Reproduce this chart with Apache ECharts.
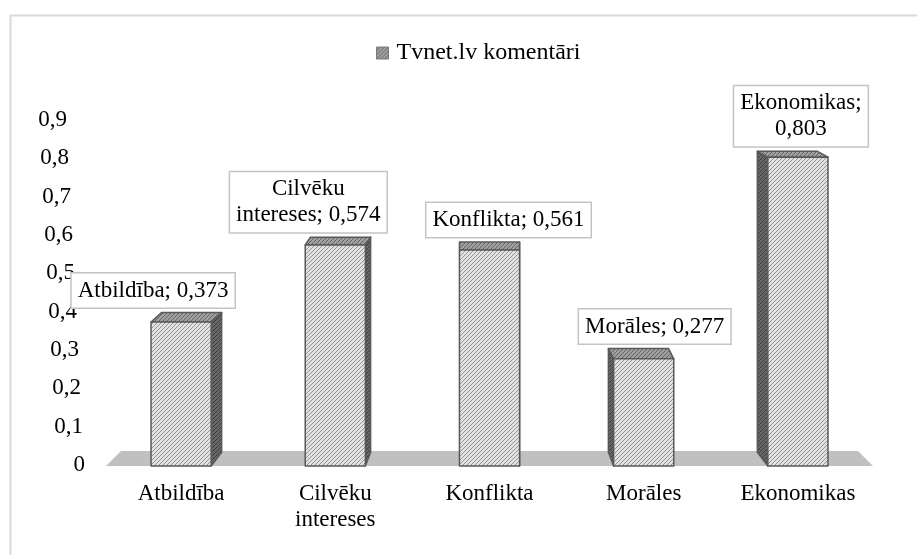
<!DOCTYPE html>
<html>
<head>
<meta charset="utf-8">
<script src="https://cdn.jsdelivr.net/npm/echarts@6/dist/echarts.min.js"></script>
<style>
  html, body { margin: 0; padding: 0; background: #fff; }
  #chart { width: 917px; height: 555px; }
</style>
</head>
<body>
<div id="chart"></div>
<script>
// dati
const categories = ['Atbildība', 'Cilvēku\nintereses', 'Konflikta', 'Morāles', 'Ekonomikas'];
const values = [0.373, 0.574, 0.561, 0.277, 0.803];
const yTicks = ['0', '0,1', '0,2', '0,3', '0,4', '0,5', '0,6', '0,7', '0,8', '0,9'];
const seriesName = 'Tvnet.lv komentāri';

// etiķešu izkārtojums (tikai stils)
const labelWrap = [false, false, false, false, true];
const labelShift = [-28, -27, 19, 11, 3];

const FONT = '"Liberation Serif", "Times New Roman", serif';
const EDGE = '#595959';

// svītrots raksts kā Excel
function hatch(bg, line) {
  const s = 4;
  const c = document.createElement('canvas');
  c.width = c.height = s;
  const g = c.getContext('2d');
  g.fillStyle = bg;
  g.fillRect(0, 0, s, s);
  g.strokeStyle = line;
  g.lineWidth = 1;
  g.beginPath();
  g.moveTo(0, s); g.lineTo(s, 0);
  g.moveTo(-1, 1); g.lineTo(1, -1);
  g.moveTo(s - 1, s + 1); g.lineTo(s + 1, s - 1);
  g.stroke();
  return { image: c, repeat: 'repeat' };
}

const frontFill = hatch('#e2e2e2', '#949494');
const topFill = hatch('#a0a0a0', '#656565');
const sideFill = hatch('#666666', '#3e3e3e');

const fmt = v => String(v).replace('.', ',');

function renderFloor(params, api) {
  const cs = params.coordSys;
  const y0 = api.coord([0, 0])[1] + 1;
  const inset = 15, depth = 15;
  const l = cs.x + 2, r = cs.x + cs.width - 2;
  return {
    type: 'polygon',
    silent: true,
    shape: { points: [[l, y0], [r, y0], [r - inset, y0 - depth], [l + inset, y0 - depth]] },
    style: { fill: '#c0c0c0' }
  };
}

function renderBar(params, api) {
  const i = params.dataIndex;
  const v = api.value(1);
  const base = api.coord([i, 0]);
  const top = api.coord([i, v]);
  const w = api.size([1, 0])[0] * 0.39;
  const cs = params.coordSys;
  const mid = cs.x + cs.width / 2;
  const x0 = base[0] - w / 2, x1 = base[0] + w / 2;
  const yT = top[1], yB = base[1] + 1;
  const dx = (mid - base[0]) * 0.034;
  const dyT = -(5 + (yT - cs.y) * 0.022);
  const dyB = -(5 + (yB - cs.y) * 0.025);
  const sx = dx >= 0 ? x1 : x0;
  const line = { stroke: EDGE, lineWidth: 1.5, lineJoin: 'round' };
  const text = categories[i] + ';' + (labelWrap[i] ? '\n' : ' ') + fmt(v);
  return {
    type: 'group',
    children: [
      {
        type: 'polygon',
        shape: { points: [[sx, yT], [sx + dx, yT + dyT], [sx + dx, yB + dyB], [sx, yB]] },
        style: Object.assign({ fill: sideFill }, line)
      },
      {
        type: 'polygon',
        shape: { points: [[x0, yT], [x1, yT], [x1 + dx, yT + dyT], [x0 + dx, yT + dyT]] },
        style: Object.assign({ fill: topFill }, line)
      },
      {
        type: 'rect',
        shape: { x: x0, y: yT, width: w, height: yB - yT },
        style: Object.assign({ fill: frontFill }, line)
      },
      {
        type: 'text',
        x: base[0] + labelShift[i],
        y: yT + dyT - 5,
        z2: 10,
        style: {
          text: text,
          fill: '#000',
          fontSize: 23,
          fontFamily: FONT,
          align: 'center',
          verticalAlign: 'bottom',
          lineHeight: 26,
          backgroundColor: '#fff',
          borderColor: '#c4c4c4',
          borderWidth: 1.5,
          padding: [4, 6, 4, 6]
        }
      }
    ]
  };
}

const rich = {};
yTicks.forEach((t, i) => {
  rich['p' + i] = { fontSize: 23, fontFamily: FONT, color: '#000', padding: [0, i * 2, 0, 0] };
});

const chart = echarts.init(document.getElementById('chart'));
chart.setOption({
  backgroundColor: '#fff',
  animation: false,
  graphic: [{
    type: 'rect', left: 8, top: 13, silent: true,
    shape: { width: 1000, height: 1000 },
    style: { fill: 'none', stroke: '#d9d9d9', lineWidth: 2 }
  }],
  legend: {
    top: 36,
    left: 371,
    itemWidth: 12,
    itemHeight: 12,
    itemGap: 8,
    textStyle: { fontSize: 24, fontFamily: FONT, color: '#000', padding: [0, 0, 0, 3] },
    data: [{ name: seriesName, icon: 'rect', itemStyle: { color: topFill, borderColor: '#7a7a7a', borderWidth: 1 } }]
  },
  grid: { left: 104, right: 42, top: 120, bottom: 90 },
  xAxis: {
    type: 'category',
    data: categories,
    axisLine: { show: false },
    axisTick: { show: false },
    splitLine: { show: false },
    axisLabel: { interval: 0, margin: 16, fontSize: 23, lineHeight: 26, fontFamily: FONT, color: '#000' }
  },
  yAxis: {
    type: 'value',
    min: 0,
    max: 0.9,
    interval: 0.1,
    axisLine: { show: false },
    axisTick: { show: false },
    splitLine: { show: false },
    axisLabel: {
      margin: 19,
      formatter: val => {
        const i = Math.round(val * 10);
        return '{p' + i + '|' + yTicks[i] + '}';
      },
      rich: rich
    }
  },
  series: [
    {
      type: 'custom',
      name: 'floor',
      z: 1,
      silent: true,
      renderItem: renderFloor,
      data: [[0, 0]],
      encode: { x: 0, y: 1 }
    },
    {
      type: 'custom',
      name: seriesName,
      z: 3,
      itemStyle: { color: frontFill, borderColor: EDGE },
      renderItem: renderBar,
      data: values.map((v, i) => [i, v]),
      encode: { x: 0, y: 1 }
    }
  ]
});
</script>
</body>
</html>
